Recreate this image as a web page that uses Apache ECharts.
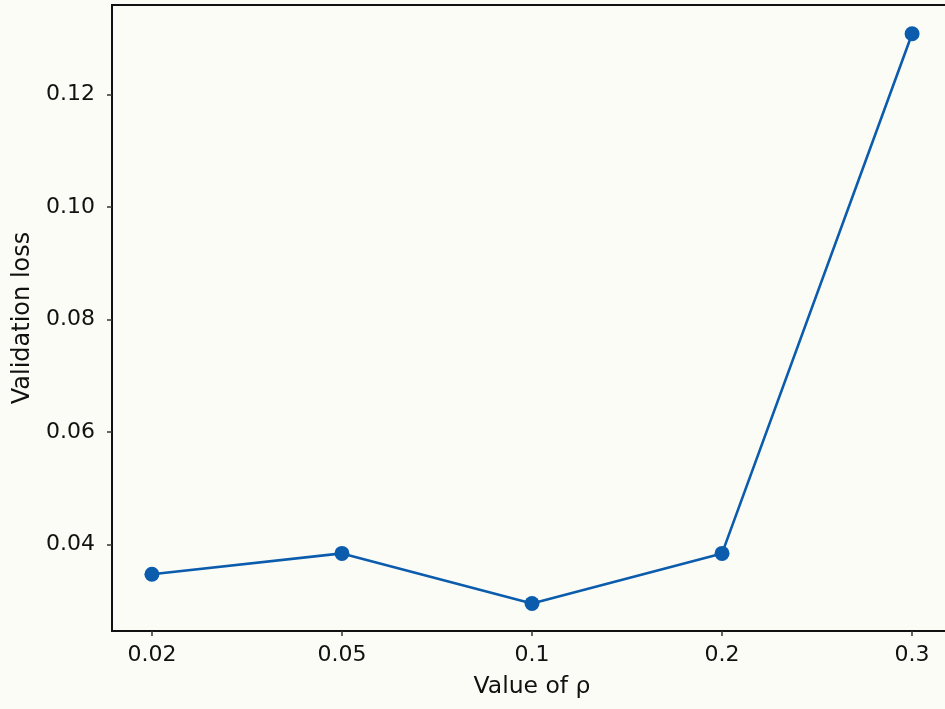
<!DOCTYPE html>
<html>
<head>
<meta charset="utf-8">
<script src="https://cdn.jsdelivr.net/npm/echarts@6/dist/echarts.min.js"></script>
<style>
  html, body { margin: 0; padding: 0; background: #fcfcf6; overflow: hidden; }
  #chart { width: 945px; height: 709px; }
</style>
</head>
<body>
<div id="chart"></div>
<script>
// Regularisation strength values (evenly spaced on the x axis)
const rhoLabels = ['0.02', '0.05', '0.1', '0.2', '0.3'];
// Validation loss for each value of rho
const valLoss = [0.0347, 0.0384, 0.0295, 0.0384, 0.1308];
// Tick values shown on the y axis
const yTicks = [0.04, 0.06, 0.08, 0.10, 0.12];
const yTickLabels = ['0.04', '0.06', '0.08', '0.10', '0.12'];

const FONT = 'DejaVu Sans';
const points = valLoss.map((v, i) => [i, v]);
const xIdx = rhoLabels.map((_, i) => i);

const chart = echarts.init(document.getElementById('chart'), null, { renderer: 'canvas' });
chart.setOption({
  backgroundColor: '#fcfcf6',
  animation: false,
  grid: {
    show: true,
    left: 112,
    top: 5,
    width: 840,
    height: 626,
    outerBoundsMode: 'none',
    containLabel: false,
    borderColor: '#111',
    borderWidth: 2,
    backgroundColor: 'transparent'
  },
  xAxis: {
    type: 'value',
    min: -0.21,
    max: 4.21,
    name: 'Value of ρ',
    nameLocation: 'middle',
    nameGap: 44,
    nameTextStyle: { fontFamily: FONT, fontSize: 23.5, color: '#111' },
    axisLine: { show: true, onZero: false, lineStyle: { color: '#111', width: 2 } },
    axisTick: { show: true, length: 5, customValues: xIdx, lineStyle: { color: '#333', width: 1.5 } },
    axisLabel: {
      customValues: xIdx,
      margin: 13,
      fontFamily: FONT, fontSize: 22, color: '#111',
      formatter: v => rhoLabels[Math.round(v)]
    },
    splitLine: { show: false }
  },
  yAxis: {
    type: 'value',
    min: 0.0246,
    max: 0.1359,
    name: 'Validation loss',
    nameLocation: 'middle',
    nameGap: 76,
    nameRotate: 90,
    nameTextStyle: { fontFamily: FONT, fontSize: 24, color: '#111' },
    axisLine: { show: true, onZero: false, lineStyle: { color: '#111', width: 2 } },
    axisTick: { show: true, length: 5, customValues: yTicks, lineStyle: { color: '#333', width: 1.5 } },
    axisLabel: {
      customValues: yTicks,
      margin: 17,
      fontFamily: FONT, fontSize: 22, color: '#111',
      formatter: v => yTickLabels[yTicks.findIndex(t => Math.abs(t - v) < 1e-9)]
    },
    splitLine: { show: false }
  },
  series: [{
    type: 'line',
    data: points,
    symbol: 'circle',
    symbolSize: 15,
    lineStyle: { color: '#0b5cad', width: 2.6 },
    itemStyle: { color: '#0b5cad' }
  }]
});
</script>
</body>
</html>
